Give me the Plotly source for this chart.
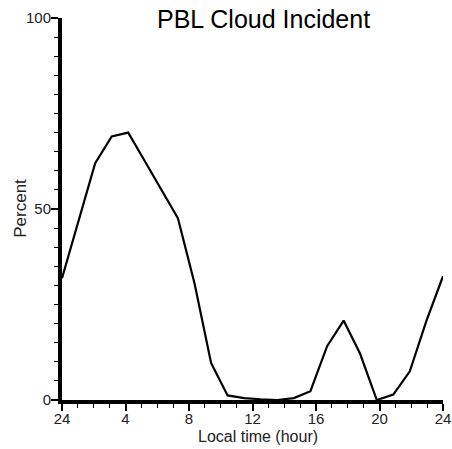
import plotly.graph_objects as go

# Local hour of each sample (24 samples spread over one day)
hours = [0.00, 1.04, 2.09, 3.13, 4.17, 5.22, 6.26, 7.30, 8.35, 9.39, 10.43, 11.48,
         12.52, 13.57, 14.61, 15.65, 16.70, 17.74, 18.78, 19.83, 20.87, 21.91, 22.96, 24.00]
# PBL cloud incidence in percent
percent = [31.9, 47.2, 62.0, 69.0, 70.0, 62.5, 55.0, 47.6, 30.5, 9.7, 1.2, 0.5,
           0.2, 0.0, 0.5, 2.3, 14.1, 20.8, 12.1, 0.0, 1.4, 7.5, 20.8, 32.4]

x_tick_vals = [0, 4, 8, 12, 16, 20, 24]
x_tick_text = ["24", "4", "8", "12", "16", "20", "24"]
y_tick_vals = [0, 50, 100]

FONT = "Liberation Sans, Arial, Helvetica, sans-serif"

W, H = 452, 449
L, R, T, B = 62, 9, 18, 48.5

fig = go.Figure()
fig.add_trace(go.Scatter(
    x=hours, y=percent, mode="lines",
    line=dict(color="black", width=2.2),
    showlegend=False, hoverinfo="skip",
))

axis_common = dict(
    showgrid=False, zeroline=False, automargin=False,
    showline=True, linecolor="black", linewidth=4,
    ticks="outside", ticklen=7, tickwidth=1.5, tickcolor="black",
    tickfont=dict(size=15, family=FONT, color="#222"),
)

fig.update_layout(
    width=W, height=H,
    margin=dict(l=L, r=R, t=T, b=B, autoexpand=False),
    paper_bgcolor="white", plot_bgcolor="white",
    font=dict(family=FONT, color="#222", size=12),
    xaxis=dict(
        range=[0, 24], tickmode="array", tickvals=x_tick_vals, ticktext=x_tick_text,
        ticklabelstandoff=-5,
        minor=dict(tickmode="linear", tick0=0, dtick=1, ticks="outside",
                   ticklen=4, tickwidth=1.2, tickcolor="black"),
        **axis_common,
    ),
    yaxis=dict(
        range=[0, 100], tickmode="array", tickvals=y_tick_vals,
        ticklabelstandoff=-3,
        minor=dict(tickmode="linear", tick0=0, dtick=5, ticks="outside",
                   ticklen=4, tickwidth=1.2, tickcolor="black"),
        **axis_common,
    ),
    annotations=[
        dict(text="PBL Cloud Incident", x=263, y=19, showarrow=False,
             font=dict(size=25, family=FONT, color="black")),
        dict(text="Local time (hour)", x=258, y=437, showarrow=False,
             font=dict(size=16, family=FONT, color="#222")),
        dict(text="Percent", x=21, y=209, showarrow=False, textangle=-90,
             font=dict(size=17, family=FONT, color="#222")),
    ],
)

# Place the text annotations in pixel coordinates of the page
pw, ph = W - L - R, H - T - B
for ann in fig.layout.annotations:
    ann.update(xref="paper", yref="paper",
               x=(ann.x - L) / pw, y=1 - (ann.y - T) / ph,
               xanchor="center", yanchor="middle")

fig.write_html("out.html")
